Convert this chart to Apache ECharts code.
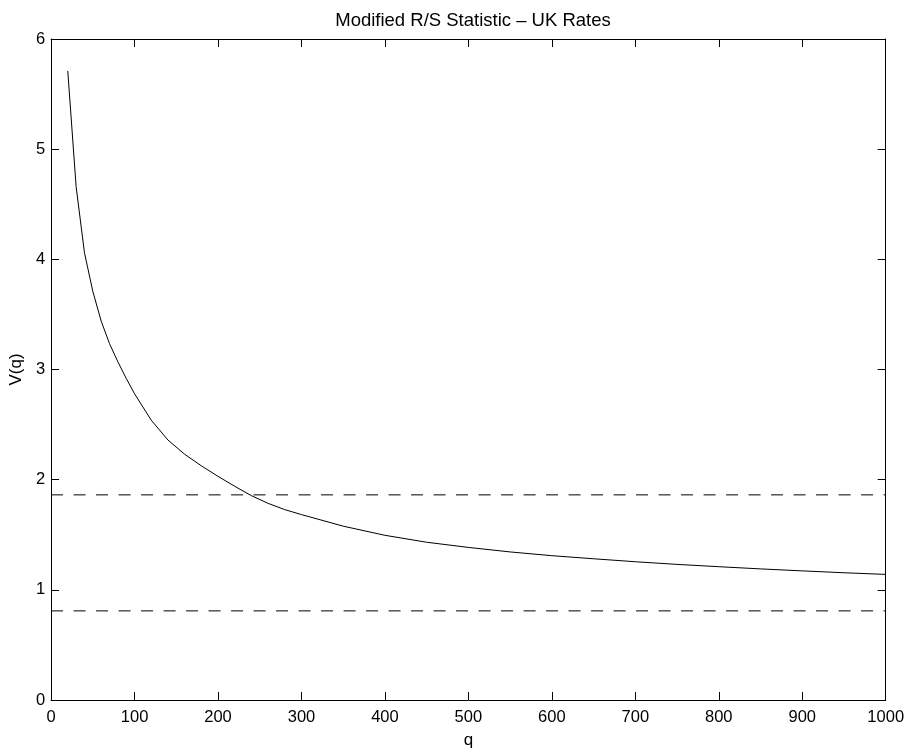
<!DOCTYPE html>
<html>
<head>
<meta charset="utf-8">
<script src="https://cdn.jsdelivr.net/npm/echarts@6/dist/echarts.min.js"></script>
<style>
html,body{margin:0;padding:0;background:#fff;}
#chart{width:908px;height:754px;}
</style>
</head>
<body>
<div id="chart"></div>
<script>
const titleText = 'Modified R/S Statistic \u2013 UK Rates';
const xName = 'q';
const yName = 'V(q)';
const qValues = [20, 30, 40, 50, 60, 70, 80, 90, 100, 120, 140, 160, 180, 200, 220, 240, 260, 280, 300, 350, 400, 450, 500, 550, 600, 650, 700, 750, 800, 850, 900, 950, 1000];
const vValues = [5.71, 4.66, 4.06, 3.71, 3.44, 3.235, 3.07, 2.92, 2.78, 2.54, 2.36, 2.231, 2.126, 2.03, 1.94, 1.855, 1.785, 1.728, 1.683, 1.578, 1.495, 1.432, 1.385, 1.344, 1.31, 1.282, 1.255, 1.231, 1.21, 1.19, 1.172, 1.155, 1.14];
const upperBound = 1.862;
const lowerBound = 0.809;
const boundRange = [0, 1000];

const font = '"Liberation Sans", Arial, Helvetica, sans-serif';
const chart = echarts.init(document.getElementById('chart'), null, {renderer: 'canvas'});

function axisCommon() {
  return {
    axisLine: {show: true, onZero: false, lineStyle: {color: '#000', width: 1}},
    axisTick: {show: true, inside: true, length: 8, lineStyle: {color: '#000', width: 1}},
    splitLine: {show: false}
  };
}

chart.setOption({
  animation: false,
  backgroundColor: '#fff',
  title: {
    text: titleText,
    left: 468, textAlign: 'center', top: 6,
    textStyle: {fontFamily: font, fontSize: 18.5, fontWeight: 'normal', color: '#000'}
  },
  grid: {left: 49.5, right: 22.3, top: 39, bottom: 47.4},
  xAxis: [
    Object.assign({
      type: 'value', min: 0, max: 1000, interval: 100, position: 'bottom',
      name: xName, nameLocation: 'middle', nameGap: 32,
      nameTextStyle: {fontFamily: font, fontSize: 17, color: '#000'},
      axisLabel: {fontFamily: font, fontSize: 16.5, color: '#000', margin: 9, formatter: v => String(v)}
    }, axisCommon()),
    Object.assign({
      type: 'value', min: 0, max: 1000, interval: 100, position: 'top',
      axisLabel: {show: false}
    }, axisCommon())
  ],
  yAxis: [
    Object.assign({
      type: 'value', min: 0, max: 6, interval: 1, position: 'left',
      name: yName, nameLocation: 'middle', nameGap: 23, nameRotate: 90,
      nameTextStyle: {fontFamily: font, fontSize: 17, color: '#000'},
      axisLabel: {fontFamily: font, fontSize: 16.5, color: '#000', margin: 6, formatter: v => String(v)}
    }, axisCommon()),
    Object.assign({
      type: 'value', min: 0, max: 6, interval: 1, position: 'right',
      axisLabel: {show: false}
    }, axisCommon())
  ],
  series: [
    {
      type: 'line', xAxisIndex: 0, yAxisIndex: 0,
      data: qValues.map((q, i) => [q, vValues[i]]),
      showSymbol: false, symbol: 'none',
      lineStyle: {color: '#000', width: 1}
    },
    {
      type: 'line', xAxisIndex: 0, yAxisIndex: 0,
      data: boundRange.map(q => [q, upperBound]),
      showSymbol: false, symbol: 'none',
      lineStyle: {color: '#000', width: 1, type: [12, 10.5]}
    },
    {
      type: 'line', xAxisIndex: 0, yAxisIndex: 0,
      data: boundRange.map(q => [q, lowerBound]),
      showSymbol: false, symbol: 'none',
      lineStyle: {color: '#000', width: 1, type: [12, 10.5]}
    }
  ]
});
</script>
</body>
</html>
